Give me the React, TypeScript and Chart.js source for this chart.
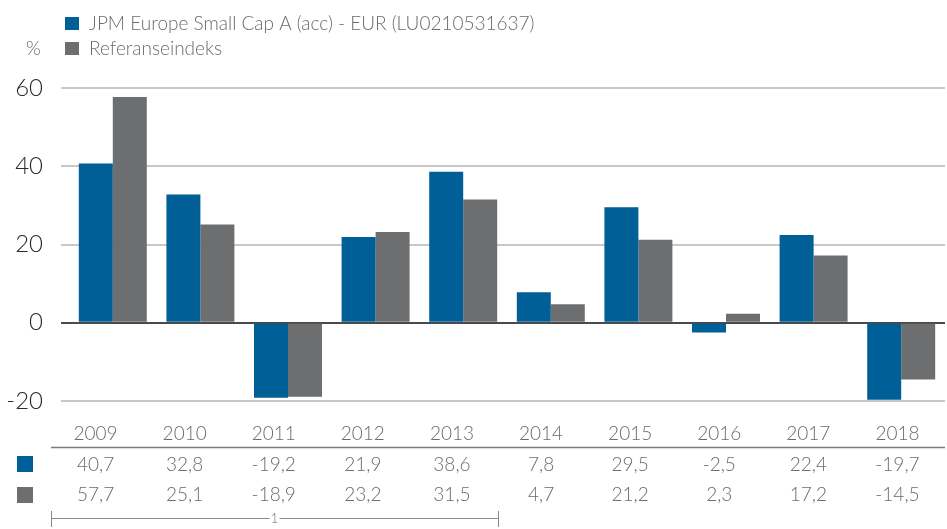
import React, { useEffect, useRef } from "react";
import { Chart, registerables } from "chart.js";

Chart.register(...registerables);

const years = ["2009", "2010", "2011", "2012", "2013", "2014", "2015", "2016", "2017", "2018"];
const fundValues = [40.7, 32.8, -19.2, 21.9, 38.6, 7.8, 29.5, -2.5, 22.4, -19.7];
const indexValues = [57.7, 25.1, -18.9, 23.2, 31.5, 4.7, 21.2, 2.3, 17.2, -14.5];
const fundLabel = "JPM Europe Small Cap A (acc) - EUR (LU0210531637)";
const indexLabel = "Referanseindeks";
const yTicks = [-20, 0, 20, 40, 60];

const BLUE = "#005f96";
const GRAY = "#6d6e70";
const TEXT = "#6b6b6b";
const FONT = "Lato, 'Open Sans', sans-serif";

const fmt = (v: number) => v.toFixed(1).replace(".", ",");

const decorPlugin = {
  id: "decor",
  afterDraw(chart: any) {
    const ctx = chart.ctx as CanvasRenderingContext2D;
    ctx.save();
    // Legend
    ctx.font = `300 19px ${FONT}`;
    ctx.textBaseline = "middle";
    ctx.textAlign = "left";
    ctx.fillStyle = BLUE;
    ctx.fillRect(65, 17, 14, 13);
    ctx.fillStyle = TEXT;
    ctx.fillText(fundLabel, 89, 24);
    ctx.fillStyle = GRAY;
    ctx.fillRect(65, 42, 14, 13);
    ctx.fillStyle = TEXT;
    ctx.fillText(indexLabel, 89, 49);
    ctx.fillText("%", 26, 49);

    // Table
    const left = 51;
    const right = 942;
    const colW = (right - left) / years.length;
    ctx.textAlign = "center";
    ctx.font = `300 19px ${FONT}`;
    ctx.fillStyle = TEXT;
    years.forEach((y, i) => {
      const cx = left + colW * (i + 0.5);
      ctx.fillText(y, cx, 434);
      ctx.fillText(fmt(fundValues[i]), cx, 465);
      ctx.fillText(fmt(indexValues[i]), cx, 495);
    });
    ctx.strokeStyle = "#7a7a7a";
    ctx.lineWidth = 1.5;
    ctx.beginPath();
    ctx.moveTo(51, 447.5);
    ctx.lineTo(945, 447.5);
    ctx.stroke();

    ctx.fillStyle = BLUE;
    ctx.fillRect(17, 456, 16, 16);
    ctx.fillStyle = GRAY;
    ctx.fillRect(17, 487, 16, 16);

    // Bracket
    const bx0 = 51;
    const bx1 = 498;
    const by = 518.5;
    const mid = (bx0 + bx1) / 2;
    ctx.strokeStyle = "#8a8a8a";
    ctx.lineWidth = 1;
    ctx.beginPath();
    ctx.moveTo(bx0 + 0.5, 511);
    ctx.lineTo(bx0 + 0.5, 527);
    ctx.moveTo(bx1 + 0.5, 511);
    ctx.lineTo(bx1 + 0.5, 527);
    ctx.moveTo(bx0, by);
    ctx.lineTo(mid - 5, by);
    ctx.moveTo(mid + 5, by);
    ctx.lineTo(bx1, by);
    ctx.stroke();
    ctx.font = `300 13px ${FONT}`;
    ctx.fillStyle = TEXT;
    ctx.fillText("1", mid, by);
    ctx.restore();
  },
};

export default function App() {
  const ref = useRef<HTMLCanvasElement | null>(null);
  useEffect(() => {
    if (!ref.current) return;
    const chart = new Chart(ref.current, {
      type: "bar",
      data: {
        labels: years,
        datasets: [
          { label: fundLabel, data: fundValues, backgroundColor: BLUE, barPercentage: 1, categoryPercentage: 0.776 },
          { label: indexLabel, data: indexValues, backgroundColor: GRAY, barPercentage: 1, categoryPercentage: 0.776 },
        ],
      },
      options: {
        animation: false,
        responsive: false,
        devicePixelRatio: 1,
        layout: { padding: { top: 88, bottom: 128, left: 0, right: 2 } },
        plugins: { legend: { display: false }, tooltip: { enabled: false } },
        scales: {
          x: { display: false },
          y: {
            min: -20,
            max: 60,
            afterBuildTicks: (s: any) => {
              s.ticks = yTicks.map((v) => ({ value: v }));
            },
            afterFit: (s: any) => {
              s.width = 69;
            },
            border: { display: false },
            grid: {
              color: (c: any) => (c.tick && c.tick.value === 0 ? "#4a4a4a" : "#c8c8c8"),
              lineWidth: 2,
              tickLength: 8,
              drawTicks: true,
            },
            ticks: {
              padding: 18,
              color: "#2a2a2a",
              font: { family: FONT, size: 24, weight: 300 as any },
            },
          },
        },
      },
      plugins: [decorPlugin],
    });
    return () => chart.destroy();
  }, []);
  return (
    <div style={{ position: "fixed", left: 0, top: 0, width: 947, height: 529, background: "#fff" }}>
      <canvas ref={ref} width={947} height={529} style={{ width: 947, height: 529, display: "block" }} />
    </div>
  );
}
